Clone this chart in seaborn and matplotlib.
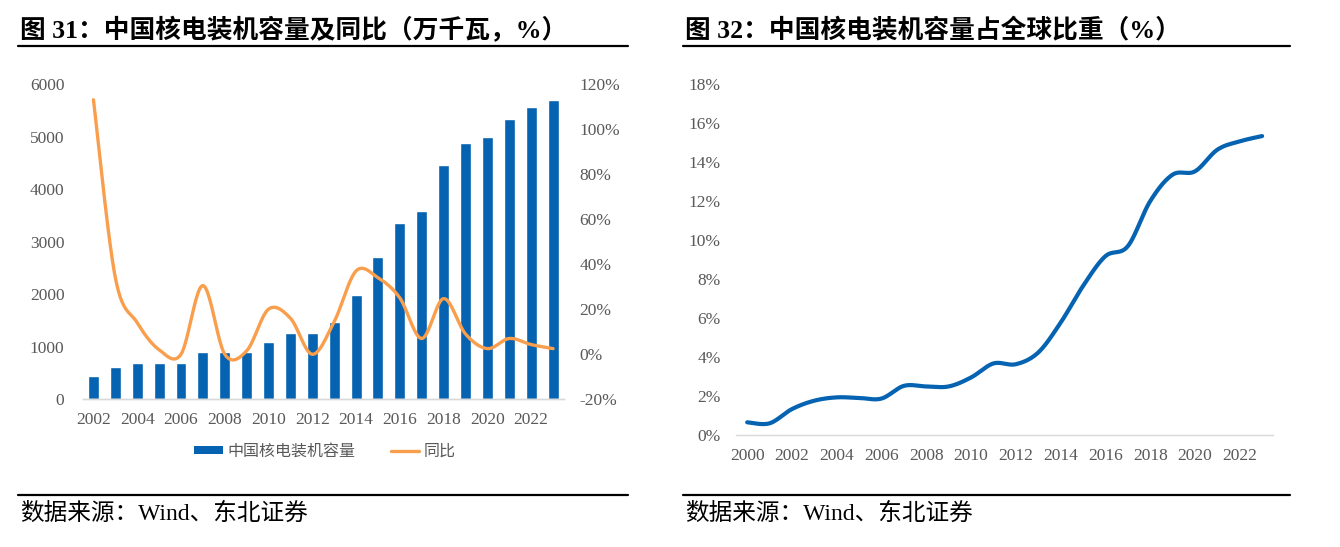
import numpy as np
import pandas as pd
import matplotlib
matplotlib.use("Agg")
import matplotlib.pyplot as plt
import seaborn as sns
from matplotlib.lines import Line2D
from matplotlib.patches import Patch

# ---------------- data ----------------
years_left = [str(y) for y in range(2002, 2024)]
capacity = [447, 619, 696, 696, 696, 907, 907, 907, 1082, 1257, 1257, 1466,
            1988, 2717, 3364, 3582, 4466, 4874, 4989, 5326, 5553, 5691]
yoy = [113, 34, 14, 2, 0, 30.5, 0, 1.5, 20, 16, 0, 14.5,
       37, 34, 25, 7, 24.7, 9, 2.5, 7, 4.3, 2.5]

years_right = list(range(2000, 2024))
share = [0.65, 0.60, 1.33, 1.76, 1.93, 1.90, 1.87, 2.52, 2.49, 2.49, 2.95, 3.67,
         3.63, 4.23, 5.76, 7.64, 9.17, 9.68, 11.99, 13.35, 13.52, 14.63, 15.06, 15.33]

left_yticks = [0, 1000, 2000, 3000, 4000, 5000, 6000]
right_yticks = [-20, 0, 20, 40, 60, 80, 100, 120]
share_yticks = [0, 2, 4, 6, 8, 10, 12, 14, 16, 18]

title_left = "图 31：中国核电装机容量及同比（万千瓦，%）"
title_right = "图 32：中国核电装机容量占全球比重（%）"
source = "数据来源：Wind、东北证券"
legend_labels = ["中国核电装机容量", "同比"]

# ---------------- style ----------------
sns.set_theme(style="white")
FAM = ["Liberation Serif", "Noto Sans CJK SC", "DejaVu Sans"]
plt.rcParams["font.family"] = FAM
BLUE = "#0563B1"
ORANGE = "#F99E4C"
GREY = "#595959"


def smooth(x, y, n=24):
    """Excel-like smoothed line (Catmull-Rom Bezier) through the data points."""
    x = np.asarray(x, float)
    y = np.asarray(y, float)
    pts = np.column_stack([x, y])
    out = []
    m = len(pts)
    t = np.linspace(0, 1, n)[:, None]
    for i in range(m - 1):
        p0 = pts[i - 1] if i > 0 else pts[i]
        p1 = pts[i]
        p2 = pts[i + 1]
        p3 = pts[i + 2] if i + 2 < m else pts[i + 1]
        c1 = p1 + (p2 - p0) / 6
        c2 = p2 - (p3 - p1) / 6
        seg = ((1 - t) ** 3) * p1 + 3 * ((1 - t) ** 2) * t * c1 + 3 * (1 - t) * t ** 2 * c2 + t ** 3 * p2
        out.append(seg if i == 0 else seg[1:])
    out = np.vstack(out)
    return out[:, 0], out[:, 1]


fig = plt.figure(figsize=(13.4, 5.47), dpi=100)
W, H = 1340, 547


def fx(px):
    return px / W


def fy(py):
    return 1 - py / H


# ---------------- left chart ----------------
axL = fig.add_axes([fx(82.5), fy(399.3), fx(564) - fx(82.5), fy(84) - fy(399.3)])
df_left = pd.DataFrame({"year": years_left, "cap": capacity, "yoy": yoy})
sns.barplot(data=df_left, x="year", y="cap", color=BLUE, saturation=1,
            width=0.5, ax=axL)
axL.set_xlim(-0.5, len(years_left) - 0.5)
axL.set_ylim(left_yticks[0], left_yticks[-1])
axL.set_yticks(left_yticks)
axL.set_yticklabels([str(v) for v in left_yticks])
axL.set_xticks(range(0, len(years_left), 2))
axL.set_xticklabels(years_left[::2])
axL.set_xlabel("")
axL.set_ylabel("")

axR = axL.twinx()
sx, sy = smooth(np.arange(len(yoy)), yoy)
axR.plot(sx, sy, color=ORANGE, lw=2.4, solid_capstyle="round")
axR.set_ylim(right_yticks[0], right_yticks[-1])
axR.set_yticks(right_yticks)
axR.set_yticklabels([f"{v}%" for v in right_yticks])
axR.set_xlim(-0.5, len(years_left) - 0.5)

for ax in (axL, axR):
    for s in ("top", "left", "right"):
        ax.spines[s].set_visible(False)
    ax.spines["bottom"].set_color("#D9D9D9")
    ax.spines["bottom"].set_linewidth(1.0)
    ax.tick_params(length=0, labelsize=12.5, labelcolor=GREY)
axL.tick_params(axis="y", pad=13)
axL.tick_params(axis="x", pad=9)
axR.tick_params(axis="y", pad=11)

handles = [Patch(facecolor=BLUE, edgecolor="none"),
           Line2D([0], [0], color=ORANGE, lw=2.4)]
leg = fig.legend(handles, legend_labels, loc="center", ncol=2,
                 bbox_to_anchor=(fx(325), fy(451)), frameon=False,
                 prop={"family": ["Noto Sans CJK SC"], "size": 11.5},
                 handlelength=1.8, handleheight=0.45, handletextpad=0.3,
                 columnspacing=2.2)
for t in leg.get_texts():
    t.set_color(GREY)

# ---------------- right chart ----------------
axS = fig.add_axes([fx(736), fy(435), fx(1273.3) - fx(736), fy(84) - fy(435)])
qx, qy = smooth(years_right, share)
sns.lineplot(x=qx, y=qy, color=BLUE, lw=3.0, ax=axS, sort=False)
axS.set_xlim(years_right[0] - 0.5, years_right[-1] + 0.5)
axS.set_ylim(share_yticks[0], share_yticks[-1])
axS.set_yticks(share_yticks)
axS.set_yticklabels([f"{v}%" for v in share_yticks])
axS.set_xticks(years_right[::2])
axS.set_xticklabels([str(v) for v in years_right[::2]])
for s in ("top", "left", "right"):
    axS.spines[s].set_visible(False)
axS.spines["bottom"].set_color("#D9D9D9")
axS.spines["bottom"].set_linewidth(1.0)
axS.tick_params(length=0, labelsize=12.5, labelcolor=GREY)
axS.tick_params(axis="y", pad=11)
axS.tick_params(axis="x", pad=9)

# ---------------- titles, rules, sources ----------------
for x0, x1, title in ((18, 628, title_left), (683, 1290, title_right)):
    fig.text(fx(x0 + 2), fy(30), title, fontsize=18.5, fontweight="bold",
             family=FAM, va="center", ha="left", color="#000000")
    fig.add_artist(Line2D([fx(x0), fx(x1)], [fy(45.7), fy(45.7)],
                          color="#000000", lw=1.6))
    fig.add_artist(Line2D([fx(x0), fx(x1)], [fy(494.5), fy(494.5)],
                          color="#000000", lw=1.6))
    fig.text(fx(x0 + 2), fy(514), source, fontsize=17, family=FAM,
             va="center", ha="left", color="#000000")

fig.savefig("out.png", dpi=100)
